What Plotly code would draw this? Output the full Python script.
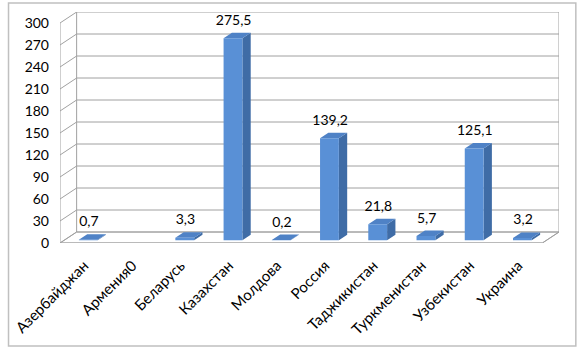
import plotly.graph_objects as go

categories = ["Азербайджан", "Армения0", "Беларусь", "Казахстан", "Молдова",
              "Россия", "Таджикистан", "Туркменистан", "Узбекистан", "Украина"]
values = [0.7, None, 3.3, 275.5, 0.2, 139.2, 21.8, 5.7, 125.1, 3.2]
value_labels = ["0,7", "", "3,3", "275,5", "0,2", "139,2", "21,8", "5,7", "125,1", "3,2"]
y_ticks = [0, 30, 60, 90, 120, 150, 180, 210, 240, 270, 300]

# 3D projection parameters (in axis units)
DX = 0.345      # depth offset along x
DY = 15.0       # depth offset along y
X0 = -0.5
XR = 9.5 + DX
YTOP = 300
BW = 0.39       # bar width
D_FRONT, D_BACK = 0.25, 0.75

def P(x, v, d):
    return x + d * DX, v - DY * (1 - d)

fig = go.Figure()

# floor
fx, fy = [], []
for (x, v, d) in [(X0, 0, 0), (X0, 0, 1), (9.5, 0, 1), (9.5, 0, 0), (X0, 0, 0)]:
    px, py = P(x, v, d); fx.append(px); fy.append(py)
fig.add_trace(go.Scatter(x=fx, y=fy, mode="lines", line=dict(color="#a6a6a6", width=1),
                         fill="toself", fillcolor="white", hoverinfo="skip", showlegend=False))

# grid lines (left wall diagonal + back wall horizontal)
gx, gy = [], []
for t in y_ticks:
    a = P(X0, t, 0); b = P(X0, t, 1); c = P(9.5, t, 1)
    gx += [a[0], b[0], c[0], None]; gy += [a[1], b[1], c[1], None]
# wall edges
for seg in [[(X0, 0, 0), (X0, YTOP, 0)], [(X0, YTOP, 1), (X0, 0, 1)],
            [(9.5, 0, 1), (9.5, YTOP, 1)], [(9.5, 0, 0), (9.5, 0, 1)], [(X0, 0, 0), (9.5, 0, 0)]]:
    for pt in seg:
        p = P(*pt); gx.append(p[0]); gy.append(p[1])
    gx.append(None); gy.append(None)
fig.add_trace(go.Scatter(x=gx, y=gy, mode="lines", line=dict(color="#a0a0a0", width=1),
                         hoverinfo="skip", showlegend=False))

# bars
front_x, front_y, side_x, side_y, top_x, top_y = [], [], [], [], [], []
for i, v in enumerate(values):
    if v is None:
        continue
    l, r = i - BW / 2, i + BW / 2
    for (xx, yy, pts) in [
        (front_x, front_y, [(l, 0, D_FRONT), (l, v, D_FRONT), (r, v, D_FRONT), (r, 0, D_FRONT)]),
        (side_x, side_y, [(r, 0, D_FRONT), (r, v, D_FRONT), (r, v, D_BACK), (r, 0, D_BACK)]),
        (top_x, top_y, [(l, v, D_FRONT), (r, v, D_FRONT), (r, v, D_BACK), (l, v, D_BACK)]),
    ]:
        for pt in pts + [pts[0]]:
            p = P(*pt); xx.append(p[0]); yy.append(p[1])
        xx.append(None); yy.append(None)

for xx, yy, col in [(side_x, side_y, "#3f6ca6"), (top_x, top_y, "#4f82c6"), (front_x, front_y, "#5990d6")]:
    fig.add_trace(go.Scatter(x=xx, y=yy, mode="lines", line=dict(width=0, color=col),
                             fill="toself", fillcolor=col, hoverinfo="skip", showlegend=False))

# data labels
lx, ly, lt = [], [], []
for i, (v, t) in enumerate(zip(values, value_labels)):
    if v is None or not t:
        continue
    lx.append(i + 0.1); ly.append(v + 12); lt.append(t)
fig.add_trace(go.Scatter(x=lx, y=ly, text=lt, mode="text", textposition="middle center",
                         textfont=dict(family="Lato", size=14, color="black"),
                         hoverinfo="skip", showlegend=False))

fig.update_layout(
    width=584, height=352,
    margin=dict(l=55, r=25, t=12, b=109),
    paper_bgcolor="white", plot_bgcolor="white",
    font=dict(family="Lato", size=14, color="black"),
    xaxis=dict(range=[X0, XR], showgrid=False, zeroline=False, showline=False,
               tickmode="array", tickvals=list(range(len(categories))), ticktext=categories,
               tickangle=-45, ticks="", tickfont=dict(size=15), ticklabelstandoff=10),
    yaxis=dict(range=[-DY, YTOP], showgrid=False, zeroline=False, showline=False,
               tickmode="array", tickvals=[t - DY for t in y_ticks], ticktext=[str(t) for t in y_ticks],
               ticks="", tickfont=dict(size=14), ticklabelstandoff=10),
    shapes=[dict(type="rect", xref="paper", yref="paper", x0=-52/504, x1=(576-55)/504,
                 y0=-(346-243)/231, y1=(243-3)/231, line=dict(color="#c0c0c0", width=1.5),
                 layer="below")],
)

fig.write_html("out.html")
